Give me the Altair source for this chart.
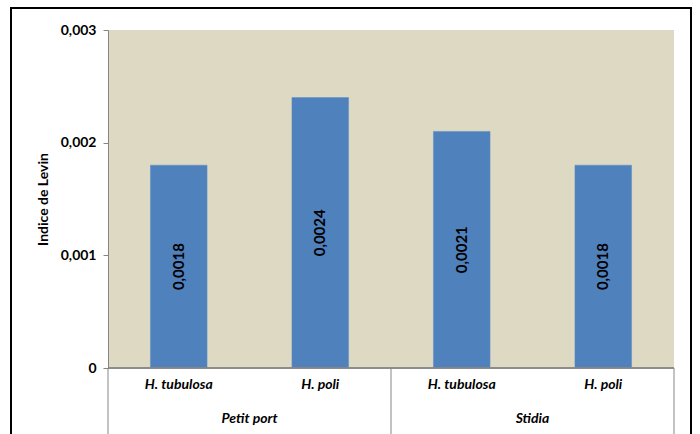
import altair as alt
import pandas as pd

# Levin index per species and site
sites = ["Petit port", "Petit port", "Stidia", "Stidia"]
species = ["H. tubulosa", "H. poli", "H. tubulosa", "H. poli"]
levin = [0.0018, 0.0024, 0.0021, 0.0018]
site_names = ["Petit port", "Stidia"]

df = pd.DataFrame({"site": sites, "species": species, "levin": levin})
df["key"] = df["site"] + " | " + df["species"]
keys = list(df["key"])

# Group boundaries along the category axis (cumulative species counts)
bounds = [0]
for s in site_names:
    bounds.append(bounds[-1] + sites.count(s))
bounds_df = pd.DataFrame({"b": bounds})
sites_df = pd.DataFrame({"site": site_names})

FONT = "Lato"
GRID = "#868686"
W, H = 566, 338

band = alt.Scale(domain=keys, paddingInner=0.6, paddingOuter=0.3)
x_bar = alt.X("key:N", scale=band, axis=None, sort=keys)

y_scale = alt.Scale(domain=[0, 0.003], nice=False)
y_axis = alt.Axis(
    values=[0, 0.001, 0.002, 0.003],
    labelExpr="replace(format(datum.value, '.3~f'), '.', ',')",
    title="Indice de Levin",
    titleFont=FONT, titleFontSize=14, titleFontWeight="bold", titleColor="black",
    titlePadding=10,
    labelFont=FONT, labelFontSize=14, labelFontWeight="bold", labelColor="black",
    labelPadding=7, tickSize=5, tickColor=GRID, domainColor=GRID,
    grid=False,
)

bars = alt.Chart(df).mark_bar(color="#4F81BD", stroke="#5B8CC6", strokeWidth=0.5).encode(
    x=x_bar,
    y=alt.Y("levin:Q", scale=y_scale, axis=y_axis),
)

# Bottom axis line
base_line = alt.Chart(df).mark_rule(color=GRID, strokeWidth=1).encode(
    x=alt.value(0), x2=alt.value(W), y=alt.value(H)
)

value_labels = alt.Chart(df).transform_calculate(
    mid="datum.levin / 2",
    txt="replace(format(datum.levin, '.4f'), '.', ',')",
).mark_text(angle=270, font=FONT, fontSize=15, fontWeight="bold", color="black",
            align="center", baseline="middle").encode(
    x=x_bar,
    y=alt.Y("mid:Q", scale=y_scale),
    text="txt:N",
)

species_labels = alt.Chart(df).mark_text(
    font=FONT, fontSize=14, fontWeight="bold", fontStyle="italic", color="black",
    baseline="middle",
).encode(
    x=alt.X("key:N", scale=alt.Scale(domain=keys, paddingInner=0.6, paddingOuter=0.3),
            axis=None, sort=keys),
    y=alt.value(H + 17),
    text="species:N",
)

site_labels = alt.Chart(sites_df).mark_text(
    font=FONT, fontSize=14, fontWeight="bold", fontStyle="italic", color="black",
    baseline="middle",
).encode(
    x=alt.X("site:N", scale=alt.Scale(domain=site_names, paddingInner=0, paddingOuter=0),
            axis=None, sort=site_names),
    y=alt.value(H + 51),
    text="site:N",
)

separators = alt.Chart(bounds_df).mark_rule(color=GRID, strokeWidth=1).encode(
    x=alt.X("b:Q", scale=alt.Scale(domain=[0, len(sites)], nice=False, zero=False), axis=None),
    y=alt.value(H),
    y2=alt.value(H + 70),
)

# Outer chart frame
frame = alt.Chart(sites_df).mark_rect(fill=None, stroke="black", strokeWidth=2).encode(
    x=alt.value(-97), x2=alt.value(583), y=alt.value(-22), y2=alt.value(H + 80)
)

chart = alt.layer(
    bars, base_line, value_labels, species_labels, site_labels, separators, frame
).resolve_scale(x="independent").properties(
    width=W, height=H,
    autosize=alt.AutoSizeParams(type="none"),
    padding={"left": 108, "top": 30, "right": 26, "bottom": 66},
    background="white",
).configure_view(fill="#DDD9C3", stroke=None)

chart.save("out.html", embed_options={"renderer": "svg", "actions": False})
